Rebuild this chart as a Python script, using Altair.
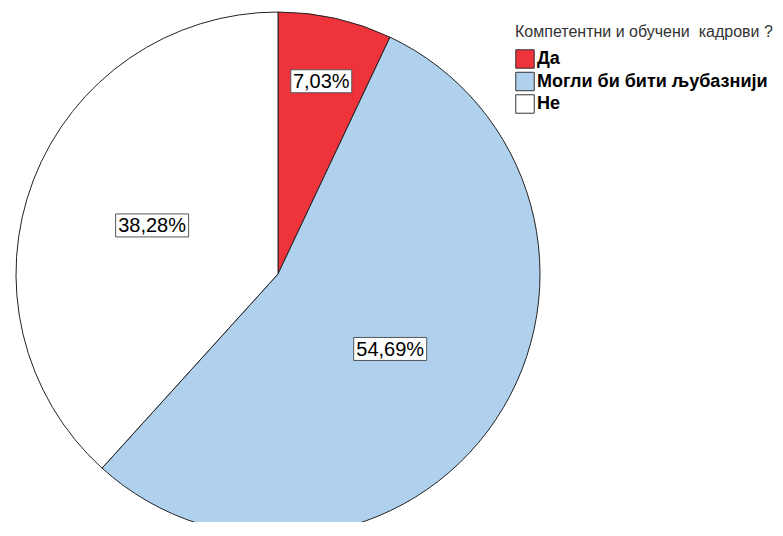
import altair as alt
import pandas as pd

categories = ["Да", "Могли би бити љубазнији", "Не"]
percents = [7.03, 54.69, 38.28]
labels = ["7,03%", "54,69%", "38,28%"]
colors = ["#EF333B", "#AFD1EE", "#FFFFFF"]
legend_title = "Компетентни и обучени \u00a0кадрови ?"

df = pd.DataFrame({"cat": categories, "pct": percents, "label": labels, "order": [0, 1, 2]})

CX, CY, R = 270, 266, 262
FONT = "Liberation Sans"

base = alt.Chart(df)

pie = base.mark_arc(stroke="#222222", strokeWidth=1, outerRadius=R).encode(
    theta=alt.Theta("pct:Q", stack=True),
    order=alt.Order("order:O"),
    color=alt.Color(
        "cat:N",
        scale=alt.Scale(domain=categories, range=colors),
        sort=categories,
        legend=alt.Legend(
            title=legend_title,
            orient="none",
            legendX=507,
            legendY=16,
        ),
    ),
    x=alt.value(CX),
    y=alt.value(CY),
)

lab = base.transform_window(
    cum="sum(pct)", sort=[alt.SortField("order")], frame=[None, 0]
).transform_calculate(
    mid="(datum.cum - datum.pct/2)/100*2*PI",
    lr=f"datum.pct < 10 ? {0.754 * R} : {0.515 * R}",
).transform_calculate(
    lx=f"{CX} + datum.lr*sin(datum.mid)",
    ly=f"{CY} - datum.lr*cos(datum.mid)",
    bw="12*length(datum.label)+1",
).transform_calculate(
    x1="datum.lx - datum.bw/2",
    x2="datum.lx + datum.bw/2",
    y1="datum.ly - 11.5",
    y2="datum.ly + 11.5",
)

boxes = lab.mark_rect(fill="white", stroke="#555555", strokeWidth=1).encode(
    x=alt.X("x1:Q", scale=None),
    x2="x2:Q",
    y=alt.Y("y1:Q", scale=None),
    y2="y2:Q",
)

texts = lab.mark_text(font=FONT, fontSize=20, align="center", baseline="middle", dy=1, color="black").encode(
    x=alt.X("lx:Q", scale=None),
    y=alt.Y("ly:Q", scale=None),
    text="label:N",
)

chart = alt.layer(pie, boxes, texts).properties(
    width=767,
    height=514,
    padding=0,
    autosize=alt.AutoSizeParams(type="none"),
).configure_view(stroke=None).configure_legend(
    titleFont=FONT,
    titleFontSize=16,
    titleFontWeight="normal",
    titleColor="#333333",
    titleLimit=400,
    titlePadding=9,
    labelFont=FONT,
    labelFontSize=18,
    labelFontWeight="bold",
    labelColor="black",
    labelLimit=400,
    labelOffset=2,
    symbolType="square",
    symbolSize=340,
    symbolStrokeColor="#333333",
    symbolStrokeWidth=1,
    symbolOpacity=1,
    rowPadding=-1.5,
)

chart.save("out.html", embed_options={"renderer": "svg", "actions": False})
